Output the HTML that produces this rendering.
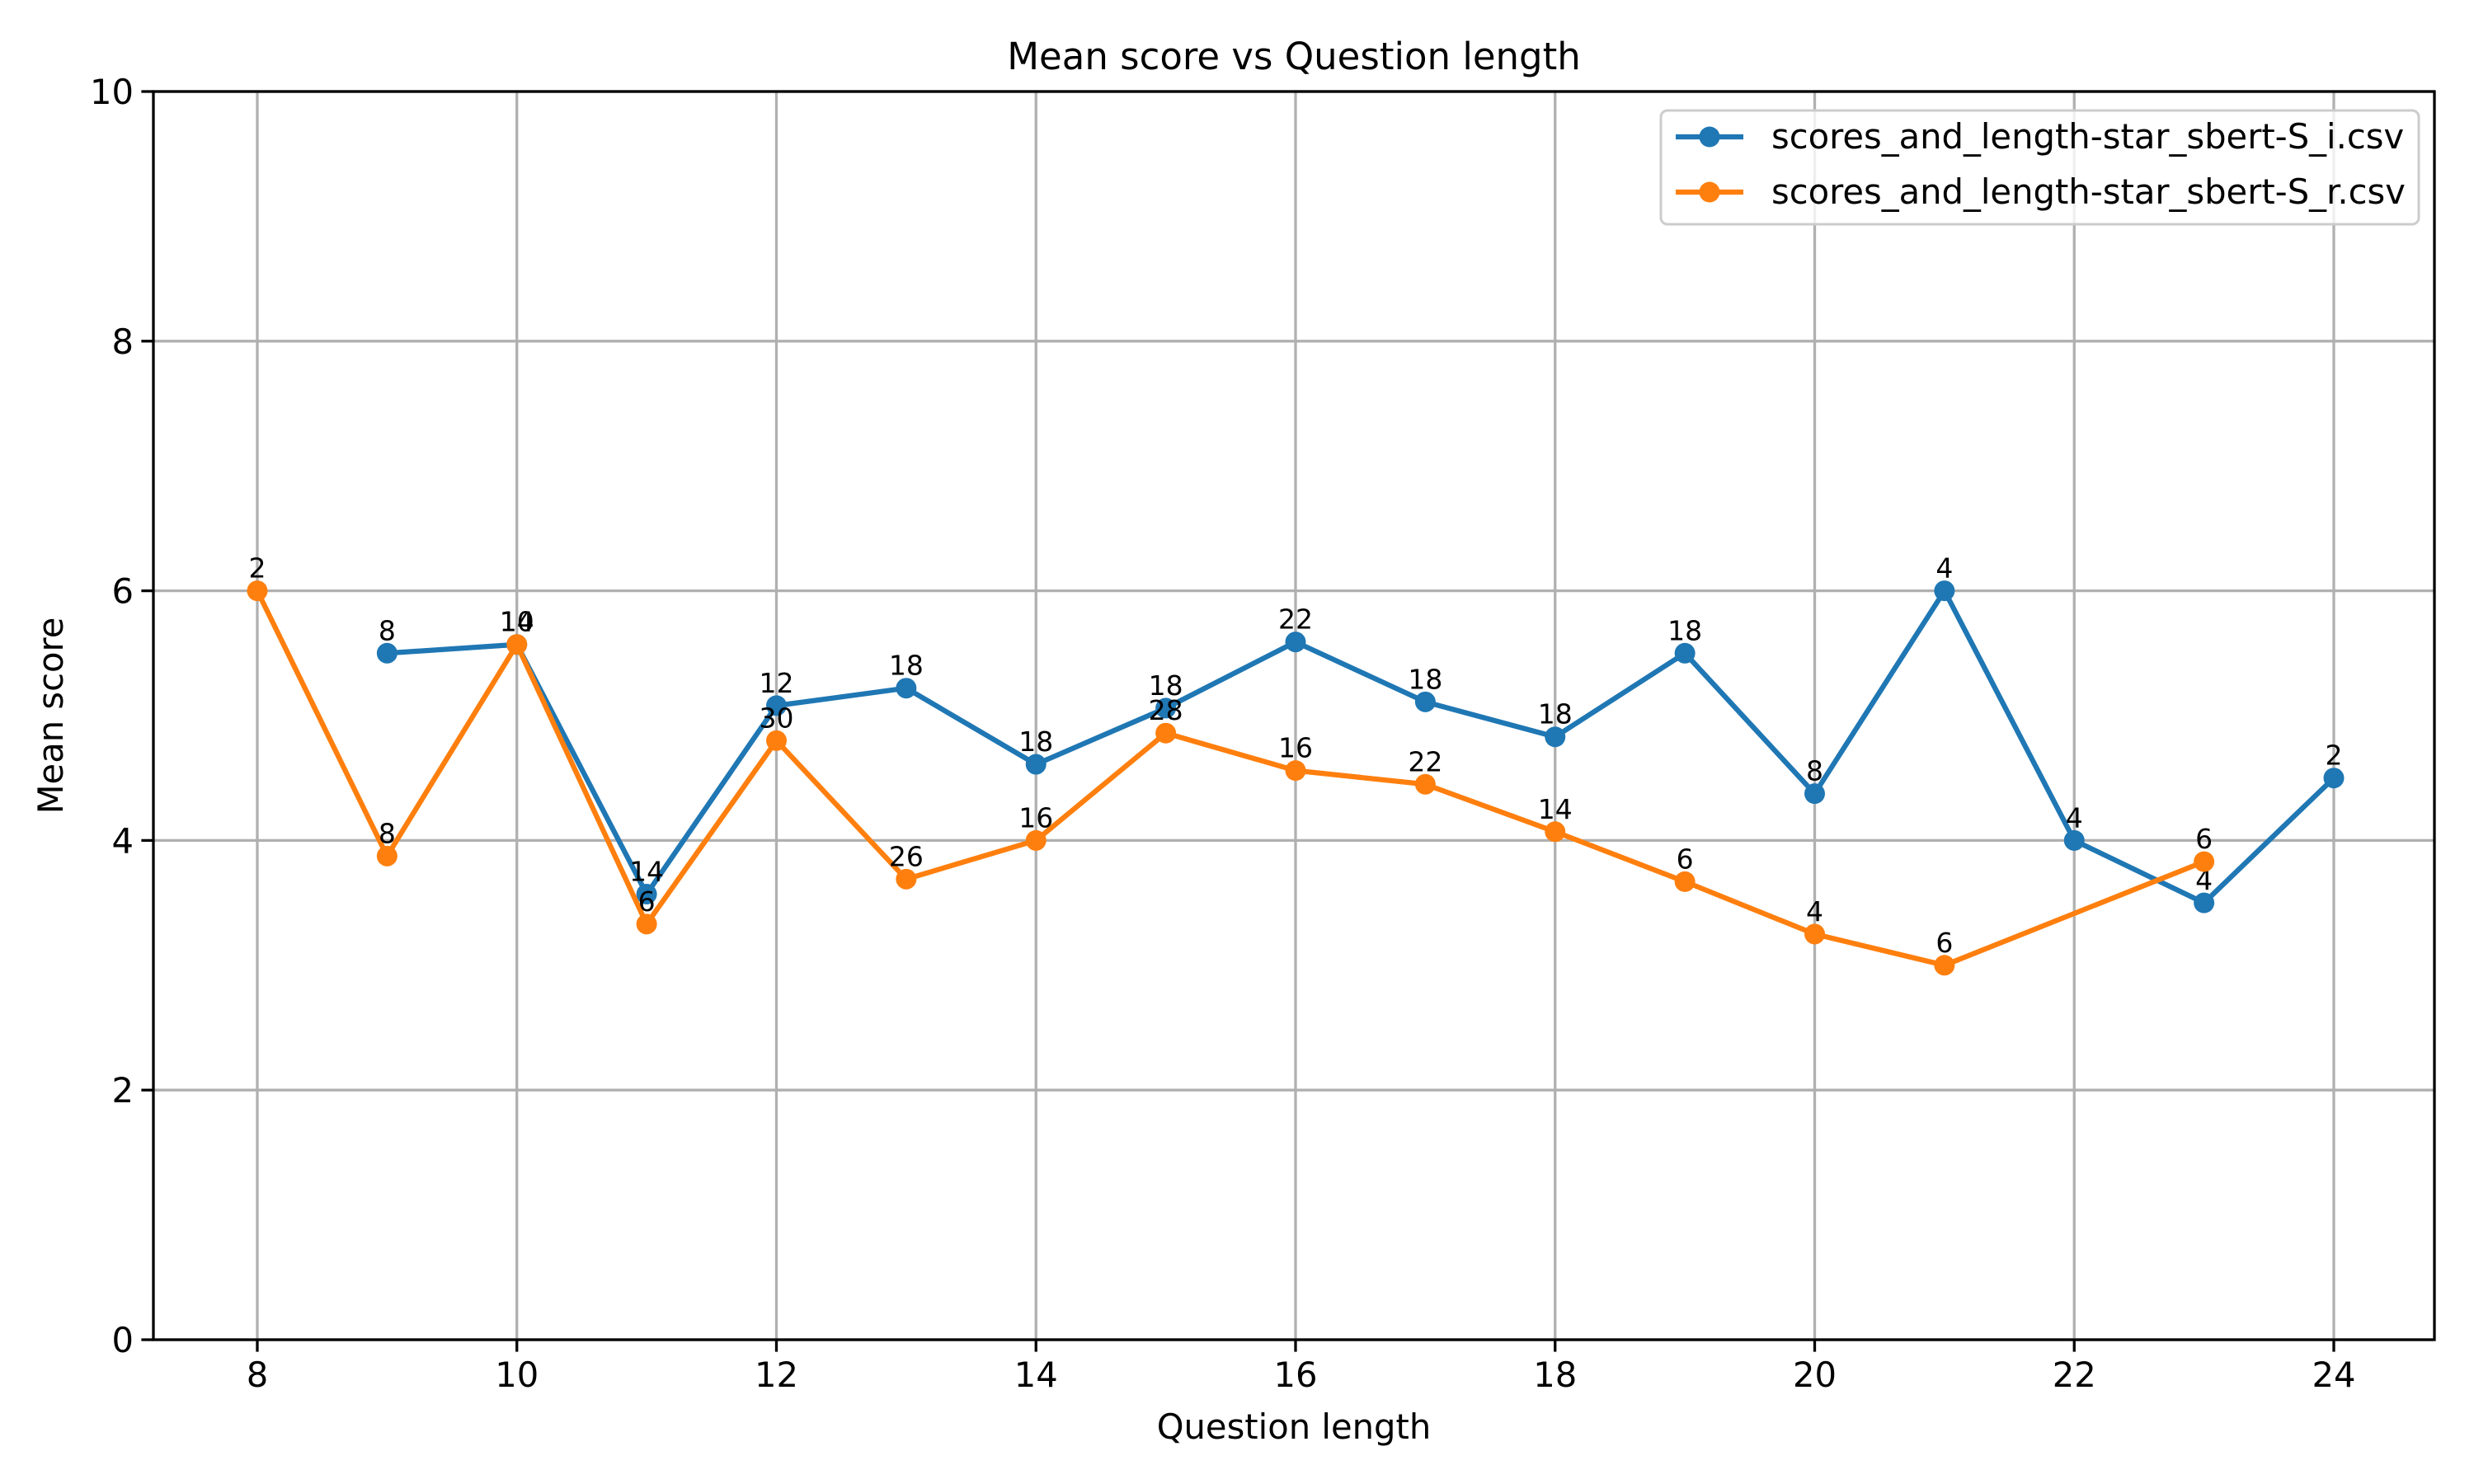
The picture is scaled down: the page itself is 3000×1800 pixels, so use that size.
<!DOCTYPE html>
<html><head><meta charset="utf-8"><style>
html,body{margin:0;padding:0;background:#fff;}
svg{display:block;font-family:"DejaVu Sans","Liberation Sans",sans-serif;}
</style></head><body>
<svg id="chart" width="3000" height="1800" viewBox="0 0 3000 1800" xmlns="http://www.w3.org/2000/svg">
<rect width="3000" height="1800" fill="#fff"/>
<g id="grid"></g>
<g id="series"></g>
<rect x="186" y="111" width="2766" height="1514" fill="none" stroke="#000" stroke-width="3.3"/>
<g id="ticks"></g>
<text x="1569" y="84" text-anchor="middle" font-size="45">Mean score vs Question length</text>
<text x="1569" y="1745" text-anchor="middle" font-size="41.7">Question length</text>
<text transform="translate(76,868) rotate(-90)" text-anchor="middle" font-size="41.7">Mean score</text>
<g>
<rect x="2014" y="134" width="919" height="138" rx="8" fill="#fff" fill-opacity="0.8" stroke="#ccc" stroke-width="3"/>
<g>
<line x1="2032" y1="166" x2="2114" y2="166" stroke="#1f77b4" stroke-width="6.25"/>
<circle cx="2073" cy="166" r="12.5" fill="#1f77b4"/>
<text x="2148" y="180" font-size="41.7">scores_and_length-star_sbert-S_i.csv</text>
</g>
<g>
<line x1="2032" y1="233" x2="2114" y2="233" stroke="#ff7f0e" stroke-width="6.25"/>
<circle cx="2073" cy="233" r="12.5" fill="#ff7f0e"/>
<text x="2148" y="247" font-size="41.7">scores_and_length-star_sbert-S_r.csv</text>
</g>
</g>
</svg>
<script>
const xTicks = [8,10,12,14,16,18,20,22,24];
const yTicks = [0,2,4,6,8,10];
const siX = [9,10,11,12,13,14,15,16,17,18,19,20,21,22,23,24];
const siY = [5.5,5.57,3.57,5.08,5.22,4.61,5.06,5.59,5.11,4.83,5.5,4.375,6.0,4.0,3.5,4.5];
const siN = [8,10,14,12,18,18,18,22,18,18,18,8,4,4,4,2];
const srX = [8,9,10,11,12,13,14,15,16,17,18,19,20,21,23];
const srY = [6.0,3.875,5.57,3.33,4.8,3.69,4.0,4.86,4.56,4.45,4.07,3.67,3.25,3.0,3.83];
const srN = [2,8,14,6,30,26,16,28,16,22,14,6,4,6,6];

const NS="http://www.w3.org/2000/svg";
const X0=186,X1=2952,Y0=1625,Y1=111;
const px8=312,px24=2830;
function sx(v){return px8+(v-8)*(px24-px8)/16;}
function sy(v){return Y0-(v/10)*(Y0-Y1);}
function mk(tag,attrs,parent){const e=document.createElementNS(NS,tag);for(const k in attrs)e.setAttribute(k,attrs[k]);parent.appendChild(e);return e;}
const grid=document.getElementById('grid'),ticks=document.getElementById('ticks'),ser=document.getElementById('series');
xTicks.forEach(t=>{
  const x=sx(t);
  const g=mk('line',{x1:x,x2:x,y1:Y1,y2:Y0,stroke:'#b0b0b0','stroke-width':3.3},grid);
  
  
  const tk=mk('line',{x1:x,x2:x,y1:Y0,y2:Y0+14.6,stroke:'#000','stroke-width':3.3},ticks);
  
  
  const tl=mk('text',{x:x,y:Y0+57,'text-anchor':'middle','font-size':41.7},ticks);
  tl.textContent=t;
  
  
});
yTicks.forEach(t=>{
  const y=sy(t);
  const g=mk('line',{x1:X0,x2:X1,y1:y,y2:y,stroke:'#b0b0b0','stroke-width':3.3},grid);
  
  
  const tk=mk('line',{x1:X0-14.6,x2:X0,y1:y,y2:y,stroke:'#000','stroke-width':3.3},ticks);
  
  
  const tl=mk('text',{x:X0-24,y:y+15,'text-anchor':'end','font-size':41.7},ticks);
  tl.textContent=t;
  
  
});
function drawSeries(xs,ys,ns,color,name){
  const g=mk('g',{},ser);
  
  
  const pts=xs.map((x,i)=>sx(x)+','+sy(ys[i])).join(' ');
  const pl=mk('polyline',{points:pts,fill:'none',stroke:color,'stroke-width':6.25,'stroke-linejoin':'round'},g);
  
  
  xs.forEach((x,i)=>{
    const c=mk('circle',{cx:sx(x),cy:sy(ys[i]),r:12.5,fill:color},g);
    
    
  });
  xs.forEach((x,i)=>{
    const t=mk('text',{x:sx(x),y:sy(ys[i])-16,'text-anchor':'middle','font-size':33},g);
    t.textContent=ns[i];
    
    
  });
}
drawSeries(siX,siY,siN,'#1f77b4','series-s-i');
drawSeries(srX,srY,srN,'#ff7f0e','series-s-r');
</script>
</body></html>
